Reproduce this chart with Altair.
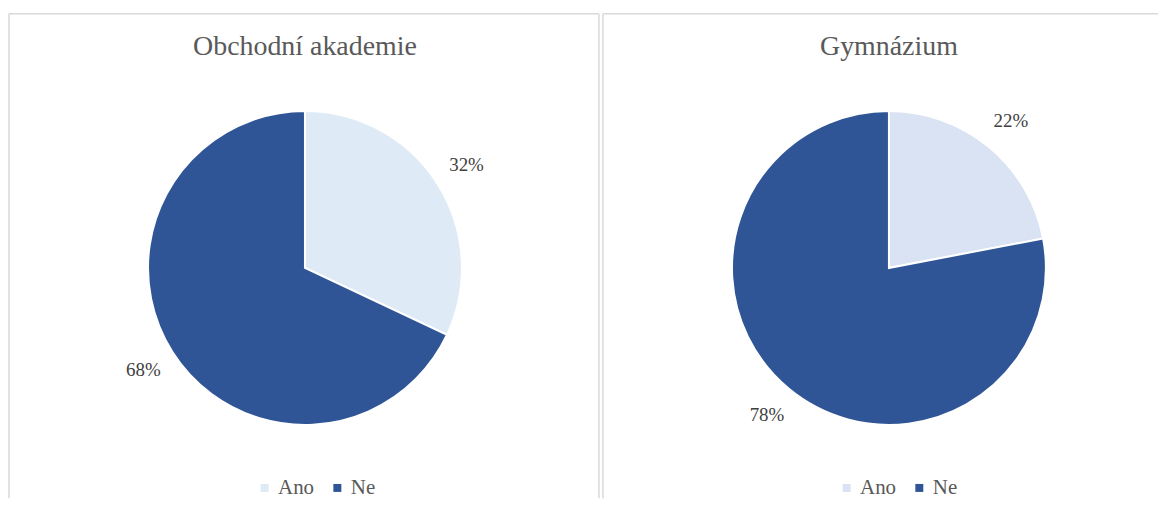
import altair as alt
import pandas as pd

categories = ["Ano", "Ne"]
titles = ["Obchodní akademie", "Gymnázium"]
oa_values = [0.32, 0.68]
gym_values = [0.22, 0.78]
oa_colors = ["#DEEAF6", "#2F5597"]
gym_colors = ["#DAE3F3", "#2F5597"]

H = 486
SERIF = "Liberation Serif"
BORDER = "#D9D9D9"


def panel(title, values, colors, width, cx, legend_x, right_border):
    df = pd.DataFrame({"kategorie": categories, "podil": values, "poradi": [0, 1]})
    base = alt.Chart(df).encode(
        theta=alt.Theta("podil:Q", stack=True),
        order=alt.Order("poradi:Q"),
        x=alt.value(cx),
        y=alt.value(255),
    )
    color = alt.Color(
        "kategorie:N",
        scale=alt.Scale(domain=categories, range=colors),
        legend=alt.Legend(
            orient="none", legendX=legend_x, legendY=465, direction="horizontal",
            title=None, symbolType="square", symbolSize=64, symbolStrokeWidth=0,
            labelFont=SERIF, labelFontSize=21, labelColor="#595959",
            columnPadding=12, labelOffset=3,
        ),
    )
    pie = base.mark_arc(outerRadius=157.5, stroke="white", strokeWidth=2).encode(color=color)
    labels = base.mark_text(radius=192, font=SERIF, fontSize=19, color="#404040").encode(
        text=alt.Text("podil:Q", format=".0%")
    )
    ttl = alt.Chart(pd.DataFrame({"t": [title]})).mark_text(
        font=SERIF, fontSize=28, color="#595959", baseline="middle"
    ).encode(text="t:N", x=alt.value(cx), y=alt.value(33))
    dummy = pd.DataFrame({"a": [0]})
    top = alt.Chart(dummy).mark_rule(color=BORDER, strokeWidth=1.5).encode(
        x=alt.value(0), x2=alt.value(width), y=alt.value(0))
    left = alt.Chart(dummy).mark_rule(color=BORDER, strokeWidth=1.5).encode(
        x=alt.value(0), y=alt.value(0), y2=alt.value(H))
    layers = [top, left, pie, labels, ttl]
    if right_border:
        right = alt.Chart(dummy).mark_rule(color=BORDER, strokeWidth=1.5).encode(
            x=alt.value(width), y=alt.value(0), y2=alt.value(H))
        layers.insert(2, right)
    return alt.layer(*layers).properties(width=width, height=H)


p1 = panel(titles[0], oa_values, oa_colors, 592, 297, 246, True)
p2 = panel(titles[1], gym_values, gym_colors, 557, 287, 234, False)

chart = (
    alt.hconcat(p1, p2, spacing=2)
    .resolve_scale(color="independent", theta="independent")
    .properties(padding={"left": 0, "top": 4, "right": 0, "bottom": 0})
    .configure_view(stroke=None)
)

chart.save("out.html", embed_options={"renderer": "svg", "actions": False})
